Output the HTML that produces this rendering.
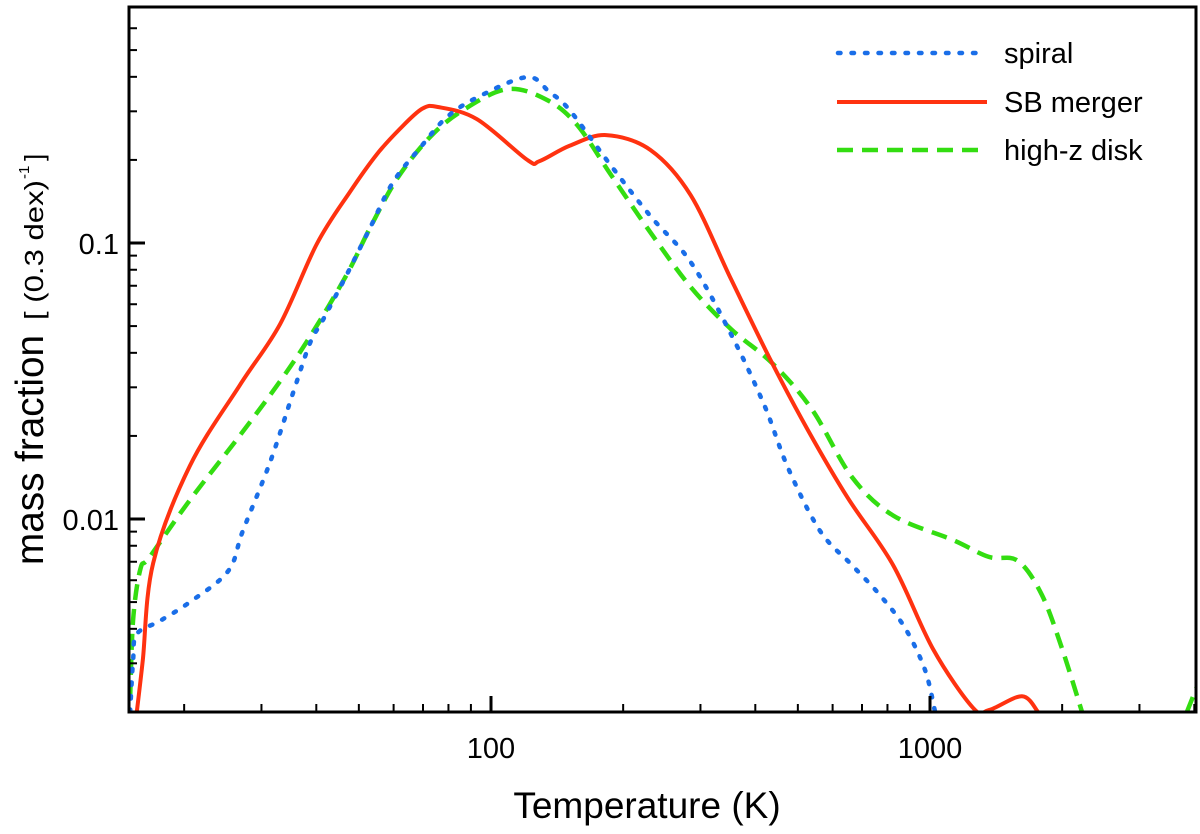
<!DOCTYPE html>
<html><head><meta charset="utf-8"><style>
body{margin:0;background:#fff;width:1200px;height:829px;overflow:hidden}
svg{font-family:"Liberation Sans",Arial,sans-serif}
</style></head><body>
<svg id="chart" width="1200" height="829" viewBox="0 0 1200 829" xmlns="http://www.w3.org/2000/svg">
<defs><clipPath id="clip"><rect x="129" y="7" width="1067" height="705"/></clipPath></defs>
<g id="series" clip-path="url(#clip)"></g>
<g id="axes"></g>
<rect x="129" y="7" width="1067" height="705" fill="none" stroke="#000" stroke-width="3"/>
<text x="647" y="818" font-size="37" text-anchor="middle">Temperature (K)</text>
<g transform="translate(43,565) rotate(-90)">
<text x="0" y="0" font-size="39" textLength="230" lengthAdjust="spacingAndGlyphs">mass fraction</text>
<text x="245" y="0" font-size="26" textLength="140" lengthAdjust="spacingAndGlyphs">[ (0.3 dex)</text>
<text x="386" y="-14" font-size="15">-1</text>
<text x="404" y="0" font-size="26">]</text>
</g>
<g>
<line x1="838" y1="53" x2="986" y2="53" stroke="#1a6ee8" stroke-width="4.5" stroke-dasharray="2.5,11" stroke-linecap="round"/>
<text x="1004" y="63" font-size="29">spiral</text>
<line x1="837" y1="102" x2="987" y2="102" stroke="#ff3210" stroke-width="4"/>
<text x="1004" y="112" font-size="29">SB merger</text>
<line x1="837" y1="150" x2="987" y2="150" stroke="#33dd11" stroke-width="4.5" stroke-dasharray="16,9"/>
<text x="1004" y="160" font-size="29">high-z disk</text>
</g>
</svg>
<script>
const spiralT=[15.06,15.3,15.6,17.6,20.6,25.2,27.2,31.4,35.4,38.7,41.4,47.0,53.0,59.8,68.9,79.4,94.4,121,136,151,187,231,285,352,419,475,562,664,769,877,974,1027];
const spiralF=[0.00200,0.00308,0.00383,0.00427,0.00500,0.00648,0.00905,0.0161,0.0286,0.0434,0.0526,0.0772,0.1133,0.166,0.221,0.286,0.341,0.399,0.352,0.303,0.192,0.125,0.0853,0.0468,0.0259,0.0153,0.00905,0.00681,0.00530,0.00403,0.00284,0.00200];
const mergerT=[15.6,16.1,17.0,20.6,26.8,33.1,40.1,47.7,55.0,62.0,69.6,75.7,92.9,121,129,151,183,231,285,352,437,527,650,824,1016,1253,1362,1620,1762];
const mergerF=[0.00200,0.00308,0.00693,0.01556,0.0306,0.0509,0.0992,0.153,0.210,0.259,0.306,0.311,0.281,0.200,0.198,0.225,0.246,0.217,0.149,0.0741,0.0367,0.0210,0.0119,0.00681,0.00338,0.00207,0.00203,0.00228,0.00200];
const diskT=[15.06,15.3,15.9,16.7,20.6,26.8,33.1,39.3,47.0,53.0,61.1,72.6,86.4,109,134,157,187,231,285,352,437,538,664,824,1128,1362,1586,1799,2000,2219];
const diskF=[0.00221,0.00431,0.00659,0.00729,0.0117,0.0201,0.0316,0.0476,0.0772,0.1133,0.171,0.242,0.303,0.361,0.330,0.268,0.178,0.109,0.0693,0.0488,0.0367,0.0250,0.0142,0.0103,0.00839,0.00729,0.00705,0.00530,0.00338,0.00200];
const diskTailT=[3848,4121];
const diskTailF=[0.00200,0.00263];
const xMajor=[100,1000];
const xMajorLabels=["100","1000"];
const yMajor=[0.01,0.1];
const yMajorLabels=["0.01","0.1"];
const xMinor=[20,30,40,50,60,70,80,90,200,300,400,500,600,700,800,900,2000,3000,4000];
const yMinor=[0.003,0.004,0.005,0.006,0.007,0.008,0.009,0.02,0.03,0.04,0.05,0.06,0.07,0.08,0.09,0.2,0.3,0.4,0.5,0.6];

const NS="http://www.w3.org/2000/svg";
function xs(t){return 491+(Math.log10(t)-2)*439;}
function ys(f){return 243-(Math.log10(f)+1)*276;}
function pathD(T,F){
  const p=T.map((t,i)=>[xs(t),ys(F[i])]);
  let d="M"+p[0][0].toFixed(1)+","+p[0][1].toFixed(1);
  for(let i=0;i<p.length-1;i++){
    const p0=p[i-1]||p[i],p1=p[i],p2=p[i+1],p3=p[i+2]||p[i+1];
    const c1=[p1[0]+(p2[0]-p0[0])/6,p1[1]+(p2[1]-p0[1])/6];
    const c2=[p2[0]-(p3[0]-p1[0])/6,p2[1]-(p3[1]-p1[1])/6];
    d+=" C"+c1.map(v=>v.toFixed(1))+" "+c2.map(v=>v.toFixed(1))+" "+p2.map(v=>v.toFixed(1));
  }
  return d;
}
const g=document.getElementById("series");
function addLine(T,F,color,dash,name,cap,w){
  const el=document.createElementNS(NS,"path");
  el.setAttribute("d",pathD(T,F));
  el.setAttribute("fill","none");
  el.setAttribute("stroke",color);
  el.setAttribute("stroke-width",w||"4");
  if(dash)el.setAttribute("stroke-dasharray",dash);
  if(cap)el.setAttribute("stroke-linecap",cap);
  
  
  g.appendChild(el);
}
addLine(diskT,diskF,"#33dd11","16,9","line-high-z-disk",null,"4.5");
addLine(diskTailT,diskTailF,"#33dd11","16,9","line-high-z-disk-tail",null,"4.5");
addLine(mergerT,mergerF,"#ff3210",null,"line-sb-merger");
addLine(spiralT,spiralF,"#1a6ee8","2.5,11","line-spiral","round","4.5");

const ax=document.getElementById("axes");
function tick(x1,y1,x2,y2,w,name){
  const l=document.createElementNS(NS,"line");
  l.setAttribute("x1",x1);l.setAttribute("y1",y1);l.setAttribute("x2",x2);l.setAttribute("y2",y2);
  l.setAttribute("stroke","#000");l.setAttribute("stroke-width",w);
  
  
  ax.appendChild(l);
}
function label(x,y,txt,anchor,name){
  const t=document.createElementNS(NS,"text");
  t.setAttribute("x",x);t.setAttribute("y",y);t.setAttribute("font-size","29");
  t.setAttribute("text-anchor",anchor);t.textContent=txt;
  
  
  ax.appendChild(t);
}
xMinor.forEach(v=>{const x=xs(v);if(x<1196)tick(x,712,x,704,2,"x-minor-tick");});
xMajor.forEach((v,i)=>{const x=xs(v);tick(x,712,x,696,3,"x-major-tick");label(x,758,xMajorLabels[i],"middle","x-tick-label");});
yMinor.forEach(v=>{const y=ys(v);if(y>7&&y<712)tick(129,y,137,y,2,"y-minor-tick");});
yMajor.forEach((v,i)=>{const y=ys(v);tick(129,y,145,y,3,"y-major-tick");label(119,y+11,yMajorLabels[i],"end","y-tick-label");});
</script>
</body></html>
